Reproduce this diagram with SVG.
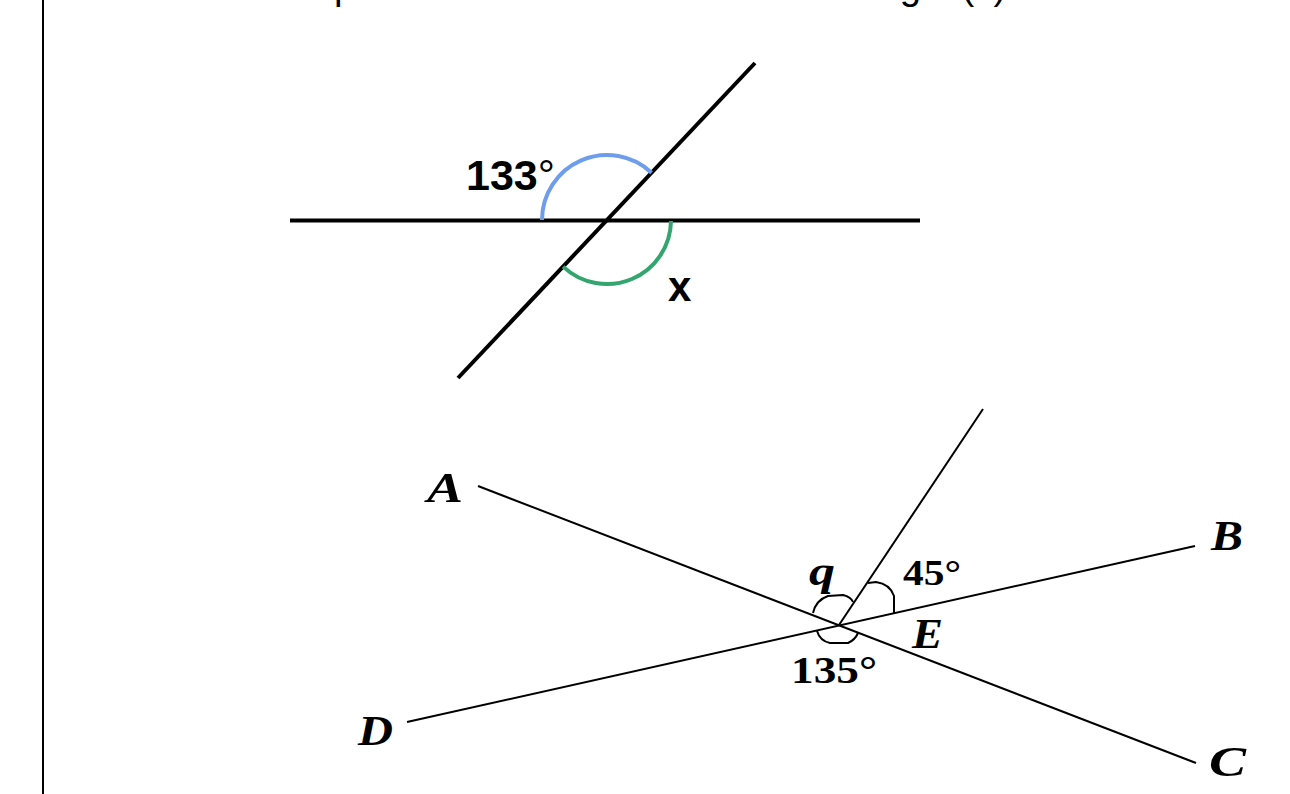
<svg xmlns="http://www.w3.org/2000/svg" width="1290" height="794" viewBox="0 0 1290 794">
<style>
.bg{fill:#fff}
.thick{stroke:#000;stroke-width:4;fill:none}
.thin{stroke:#000;stroke-width:2;fill:none}
.arc{stroke:#000;stroke-width:2;fill:none;stroke-linejoin:round}
.sans{font-family:"Liberation Sans",Arial,sans-serif;fill:#000}
.serif{font-family:"Liberation Serif","Times New Roman",serif;font-weight:bold;fill:#000}
.it{font-style:italic}
</style>
<rect class="bg" x="0" y="0" width="1290" height="794"/>
<line x1="43" y1="0" x2="43" y2="794" stroke="#000" stroke-width="2"/>
<text class="sans" x="253" y="-1" font-size="38.4">Compute the value of the unknown angle (x)</text>

<g id="figure1">
  <g id="connectors1">
    <line class="thick" x1="290" y1="220.5" x2="920" y2="220.5"/>
    <line class="thick" x1="458" y1="378" x2="755" y2="63"/>
  </g>
  <g id="angle133">
    <path d="M542,220 A65,65 0 0 1 651.6,172.7" fill="none" stroke="#6d9deb" stroke-width="4"/>
    <text class="sans" x="466" y="190" font-size="43" font-weight="bold">133<tspan font-weight="normal">°</tspan></text>
  </g>
  <g id="angleX">
    <path d="M671,221 A64,64 0 0 1 563.1,266.6" fill="none" stroke="#33a56e" stroke-width="4"/>
    <text class="sans" x="668" y="301" font-size="42" font-weight="bold">x</text>
  </g>
</g>

<g id="figure2">
  <g id="connectors2">
    <line class="thin" x1="478" y1="486" x2="1196" y2="763"/>
    <line class="thin" x1="407" y1="722" x2="1195" y2="546"/>
    <line class="thin" x1="839" y1="625" x2="983" y2="409"/>
  </g>
  <g id="labelA"><text class="serif it" x="427" y="502" font-size="43" textLength="36" lengthAdjust="spacingAndGlyphs">A</text></g>
  <g id="labelB"><text class="serif it" x="1211" y="550" font-size="43" textLength="32" lengthAdjust="spacingAndGlyphs">B</text></g>
  <g id="labelC"><text class="serif it" x="1209" y="776" font-size="43" textLength="37" lengthAdjust="spacingAndGlyphs">C</text></g>
  <g id="labelD"><text class="serif it" x="358" y="745" font-size="43" textLength="35" lengthAdjust="spacingAndGlyphs">D</text></g>
  <g id="labelE"><text class="serif it" x="912" y="648" font-size="42" textLength="31" lengthAdjust="spacingAndGlyphs">E</text></g>
  <g id="angleQ">
    <path class="arc" d="M813,613 Q816,600 828,596 L843,595 Q851,597 853,602"/>
    <text class="serif it" x="809" y="585" font-size="40" textLength="26" lengthAdjust="spacingAndGlyphs">q</text>
  </g>
  <g id="angle45">
    <path class="arc" d="M868,583 L876,582 Q890,584 894,596 L894,613"/>
    <text class="serif" x="903" y="585" font-size="36" textLength="58" lengthAdjust="spacingAndGlyphs">45°</text>
  </g>
  <g id="angle135">
    <path class="arc" d="M817,631 Q820,641 830,643 L848,643 Q855,640 858,633"/>
    <text class="serif" x="791" y="683" font-size="38" textLength="86" lengthAdjust="spacingAndGlyphs">135°</text>
  </g>
</g>
</svg>
